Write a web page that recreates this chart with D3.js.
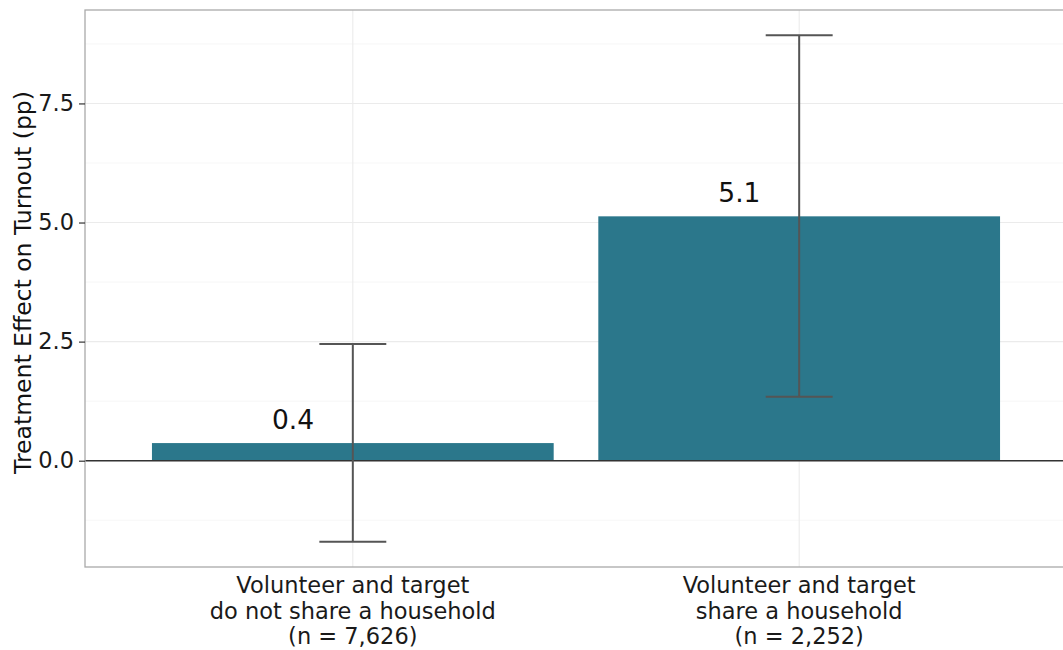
<!DOCTYPE html>
<html>
<head>
<meta charset="utf-8">
<script src="https://cdn.jsdelivr.net/npm/d3@7"></script>
<style>
  body { margin: 0; background: #fff; }
  svg { display: block; font-family: "DejaVu Sans", sans-serif; }
</style>
</head>
<body>
<svg id="chart" width="1063" height="650"></svg>
<script>
// Treatment effect estimates with 95% confidence intervals
const categories = [
  ["Volunteer and target", "do not share a household", "(n = 7,626)"],
  ["Volunteer and target", "share a household", "(n = 2,252)"]
];
const effects = [0.37, 5.13];
const ciLower = [-1.70, 1.34];
const ciUpper = [2.45, 8.93];
const yTicks = [0, 2.5, 5, 7.5];
const yMinorTicks = [-1.25, 1.25, 3.75, 6.25, 8.75];

const svg = d3.select("#chart");
const panel = { left: 85, top: 10, right: 1067, bottom: 567 };

const keys = categories.map((c, i) => String(i));
const x = d3.scaleBand()
  .domain(keys)
  .range([panel.left, panel.right])
  .paddingInner(0.1)
  .paddingOuter(0.15);

const lo = d3.min(ciLower), hi = d3.max(ciUpper);
const pad = (hi - lo) * 0.05;
const y = d3.scaleLinear()
  .domain([lo - pad, hi + pad])
  .range([panel.bottom, panel.top]);

svg.append("defs").append("clipPath").attr("id", "panel-clip")
  .append("rect")
  .attr("x", panel.left).attr("y", panel.top)
  .attr("width", panel.right - panel.left).attr("height", panel.bottom - panel.top);

const g = svg.append("g").attr("clip-path", "url(#panel-clip)");

// minor grid
g.selectAll("line.minor").data(yMinorTicks).join("line")
  .attr("x1", panel.left).attr("x2", panel.right)
  .attr("y1", d => y(d)).attr("y2", d => y(d))
  .attr("stroke", "#f4f4f4").attr("stroke-width", 0.8);

// major grid
g.selectAll("line.major").data(yTicks).join("line")
  .attr("x1", panel.left).attr("x2", panel.right)
  .attr("y1", d => y(d)).attr("y2", d => y(d))
  .attr("stroke", "#ebebeb").attr("stroke-width", 1.1);

g.selectAll("line.vmajor").data(keys).join("line")
  .attr("x1", d => x(d) + x.bandwidth() / 2).attr("x2", d => x(d) + x.bandwidth() / 2)
  .attr("y1", panel.top).attr("y2", panel.bottom)
  .attr("stroke", "#ebebeb").attr("stroke-width", 1.1);

// bars
g.selectAll("rect.bar").data(effects).join("rect")
  .attr("x", (d, i) => x(keys[i]))
  .attr("width", x.bandwidth())
  .attr("y", d => Math.min(y(d), y(0)))
  .attr("height", d => Math.abs(y(d) - y(0)))
  .attr("fill", "#2b778b");

// zero reference line
g.append("line")
  .attr("x1", panel.left).attr("x2", panel.right)
  .attr("y1", y(0)).attr("y2", y(0))
  .attr("stroke", "#333").attr("stroke-width", 1.6);

// error bars
const capHalf = x.step() * 0.075;
const eb = g.selectAll("g.eb").data(effects).join("g")
  .attr("stroke", "#555").attr("stroke-width", 2).attr("fill", "none");
eb.append("line")
  .attr("x1", (d, i) => x(keys[i]) + x.bandwidth() / 2)
  .attr("x2", (d, i) => x(keys[i]) + x.bandwidth() / 2)
  .attr("y1", (d, i) => y(ciLower[i])).attr("y2", (d, i) => y(ciUpper[i]));
eb.append("line")
  .attr("x1", (d, i) => x(keys[i]) + x.bandwidth() / 2 - capHalf)
  .attr("x2", (d, i) => x(keys[i]) + x.bandwidth() / 2 + capHalf)
  .attr("y1", (d, i) => y(ciUpper[i])).attr("y2", (d, i) => y(ciUpper[i]));
eb.append("line")
  .attr("x1", (d, i) => x(keys[i]) + x.bandwidth() / 2 - capHalf)
  .attr("x2", (d, i) => x(keys[i]) + x.bandwidth() / 2 + capHalf)
  .attr("y1", (d, i) => y(ciLower[i])).attr("y2", (d, i) => y(ciLower[i]));

// value labels
const fmt = d3.format(".1f");
g.selectAll("text.val").data(effects).join("text")
  .attr("x", (d, i) => x(keys[i]) + x.bandwidth() / 2 - x.step() * 0.134)
  .attr("y", d => y(d) - 14)
  .attr("text-anchor", "middle")
  .attr("font-size", 26.5)
  .attr("fill", "#111")
  .text(d => fmt(d));

// panel border
svg.append("rect")
  .attr("x", panel.left).attr("y", panel.top)
  .attr("width", panel.right - panel.left).attr("height", panel.bottom - panel.top)
  .attr("fill", "none").attr("stroke", "#aaa").attr("stroke-width", 1.3);

// y axis
const yAxis = svg.append("g")
  .attr("transform", `translate(${panel.left},0)`)
  .call(d3.axisLeft(y).tickValues(yTicks).tickFormat(d3.format(".1f")).tickSize(6).tickPadding(5));
yAxis.select(".domain").remove();
yAxis.selectAll(".tick line").attr("stroke", "#333").attr("stroke-width", 1.2);
yAxis.selectAll(".tick text")
  .attr("font-size", 22.5).attr("fill", "#1a1a1a")
  .attr("font-family", "DejaVu Sans");

// x axis labels
const xl = svg.append("g");
categories.forEach((lines, i) => {
  const cx = x(keys[i]) + x.bandwidth() / 2;
  const t = xl.append("text")
    .attr("text-anchor", "middle")
    .attr("font-size", 22.5)
    .attr("fill", "#1a1a1a");
  lines.forEach((ln, j) => {
    t.append("tspan")
      .attr("x", cx)
      .attr("y", 593 + j * 25.5)
      .text(ln);
  });
});

// y axis title
svg.append("text")
  .attr("transform", `translate(31,${(panel.top + panel.bottom) / 2 - 6}) rotate(-90)`)
  .attr("text-anchor", "middle")
  .attr("font-size", 23.5)
  .attr("fill", "#111")
  .text("Treatment Effect on Turnout (pp)");
</script>
</body>
</html>
